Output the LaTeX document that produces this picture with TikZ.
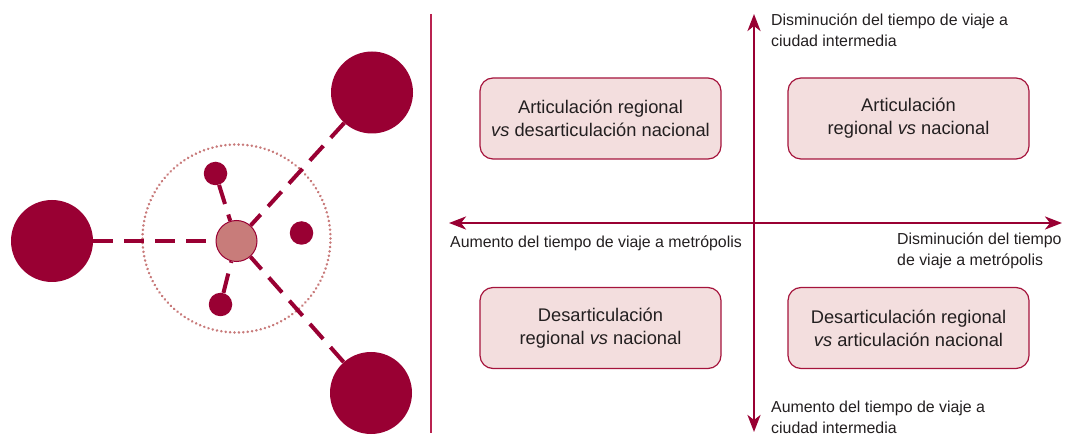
\documentclass[tikz,border=0pt]{standalone}
\usepackage{fontspec}
\setmainfont{Liberation Sans}
\usetikzlibrary{arrows.meta}
\definecolor{wine}{RGB}{153,0,51}
\definecolor{boxfill}{RGB}{243,222,222}
\definecolor{boxline}{RGB}{165,20,60}
\definecolor{hubfill}{RGB}{200,124,122}
\definecolor{ringcol}{RGB}{200,122,122}
\definecolor{txt}{RGB}{35,31,32}
\definecolor{sepcol}{RGB}{185,35,80}
\begin{document}
\begin{tikzpicture}[x=1pt,y=-1pt,
 city/.style={circle, fill=wine, draw=none, inner sep=0, minimum size=82pt},
 town/.style={circle, fill=wine, draw=none, inner sep=0, minimum size=23.5pt},
 hub/.style={circle, fill=hubfill, draw=wine, line width=1pt, inner sep=0, minimum size=41pt},
 ring/.style={circle, draw=ringcol, line width=2.8pt, line cap=round, dash pattern=on 0.01pt off 4.4pt, inner sep=0, minimum size=188pt},
 link/.style={draw=wine, line width=4pt, dash pattern=on 20pt off 11pt},
 quad/.style={rectangle, rounded corners=13pt, fill=boxfill, draw=boxline, line width=1.2pt, minimum width=241pt, minimum height=81pt, align=center, text=txt, font=\fontsize{18.3}{23}\selectfont},
 axis/.style={draw=wine, line width=2.6pt, {Stealth[length=17pt,width=13pt,inset=5pt]}-{Stealth[length=17pt,width=13pt,inset=5pt]}},
 lab/.style={text=txt, font=\fontsize{15.9}{21}\selectfont, align=left, inner sep=0}
]
\useasboundingbox (0,0) rectangle (1065,435);
% left scheme
\node[ring] (ring) at (236.5,238.5) {};
\node[city] (west) at (52,241) {};
\node[city] (ne) at (372,92.5) {};
\node[city] (se) at (371,393) {};
\node[hub] (hub) at (236.5,241) {};
\node[town] (t1) at (215.5,173.5) {};
\node[town] (t2) at (301.5,233) {};
\node[town] (t3) at (220.5,304.5) {};
\draw[link] (west) -- (hub);
\draw[link] (ne) -- (hub);
\draw[link] (se) -- (hub);
\draw[link] (t1) -- (hub);
\draw[link] (t3) -- (hub);
% separator
\coordinate (sepT) at (431,14);
\coordinate (sepB) at (431,433);
\draw[sepcol, line width=1.4pt] (sepT) -- (sepB);
% axes
\coordinate (yT) at (754,14);
\coordinate (yB) at (754,432);
\coordinate (xL) at (449,223);
\coordinate (xR) at (1062,223);
\draw[axis] (yB) -- (yT);
\draw[axis] (xL) -- (xR);
% quadrants
\node[quad] (q1) at (600.5,118.5) {Articulación regional\\\textit{vs} desarticulación nacional};
\node[quad] (q2) at (908.5,118.5) {Articulación\\regional \textit{vs} nacional};
\node[quad] (q3) at (600.5,328) {Desarticulación\\regional \textit{vs} nacional};
\node[quad] (q4) at (908.5,328) {Desarticulación regional\\\textit{vs} articulación nacional};
% axis labels (base anchor = baseline of last line)
\node[lab, anchor=base west] (lt) at (771,47) {Disminución del tiempo de viaje a\\ciudad intermedia};
\node[lab, anchor=base west] (lb) at (771,433) {Aumento del tiempo de viaje a\\ciudad intermedia};
\node[lab, anchor=base west] (ll) at (450,248) {Aumento del tiempo de viaje a metrópolis};
\node[lab, anchor=base west] (lr) at (897,266) {Disminución del tiempo\\de viaje a metrópolis};
\end{tikzpicture}
\end{document}
